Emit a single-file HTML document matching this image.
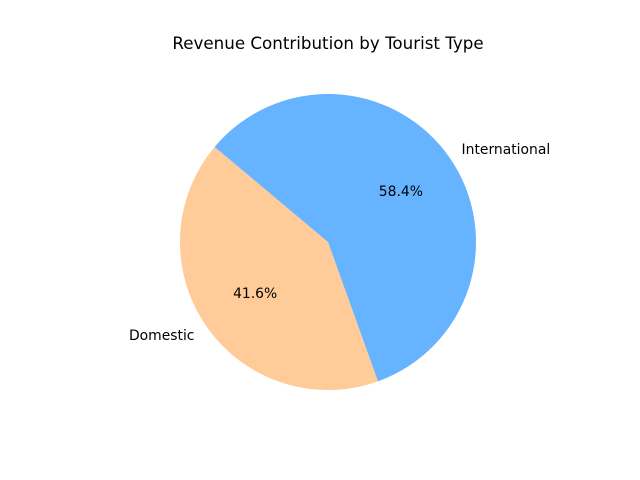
<!DOCTYPE html>
<html><head><meta charset="utf-8"><style>
html,body{margin:0;padding:0;background:#fff;}
svg{display:block;font-family:"DejaVu Sans","Liberation Sans",sans-serif;}
</style></head><body>
<svg id="chart" width="640" height="480" viewBox="0 0 640 480">
<rect width="640" height="480" fill="#fff"/>
<text x="328" y="49" text-anchor="middle" font-size="16.7" fill="#000">Revenue Contribution by Tourist Type</text>
<g id="slices"></g>
</svg>
<script>
const categories = ["Domestic", "International"];
const values = [41.6, 58.4];
const colors = ["#ffcc99", "#66b3ff"];
const startAngle = 140;
const cx = 328, cy = 242, r = 148;
const g = document.getElementById('slices');
const ns = 'http://www.w3.org/2000/svg';
const total = values.reduce((a, b) => a + b, 0);
function pt(deg, rad) { const a = deg * Math.PI / 180; return [cx + rad * Math.cos(a), cy - rad * Math.sin(a)]; }
let ang = startAngle;
values.forEach((v, i) => {
  const sweep = v / total * 360;
  const a0 = ang, a1 = ang + sweep;
  const p0 = pt(a0, r), p1 = pt(a1, r);
  const large = sweep > 180 ? 1 : 0;
  const path = document.createElementNS(ns, 'path');
  path.setAttribute('d', `M${cx},${cy} L${p0[0]},${p0[1]} A${r},${r} 0 ${large} 0 ${p1[0]},${p1[1]} Z`);
  path.setAttribute('fill', colors[i]);
  
  
  g.appendChild(path);
  const mid = (a0 + a1) / 2;
  const lp = pt(mid, r * 1.1);
  const lab = document.createElementNS(ns, 'text');
  lab.setAttribute('x', lp[0]); lab.setAttribute('y', lp[1] + 5);
  lab.setAttribute('font-size', '13.9');
  lab.setAttribute('text-anchor', Math.cos(mid * Math.PI / 180) < 0 ? 'end' : 'start');
  lab.textContent = categories[i];
  
  
  g.appendChild(lab);
  const pp = pt(mid, r * 0.6);
  const pct = document.createElementNS(ns, 'text');
  pct.setAttribute('x', pp[0]); pct.setAttribute('y', pp[1] + 5);
  pct.setAttribute('font-size', '13.9');
  pct.setAttribute('text-anchor', 'middle');
  pct.textContent = (v / total * 100).toFixed(1) + '%';
  
  
  g.appendChild(pct);
  ang = a1;
});
</script>
</body></html>
